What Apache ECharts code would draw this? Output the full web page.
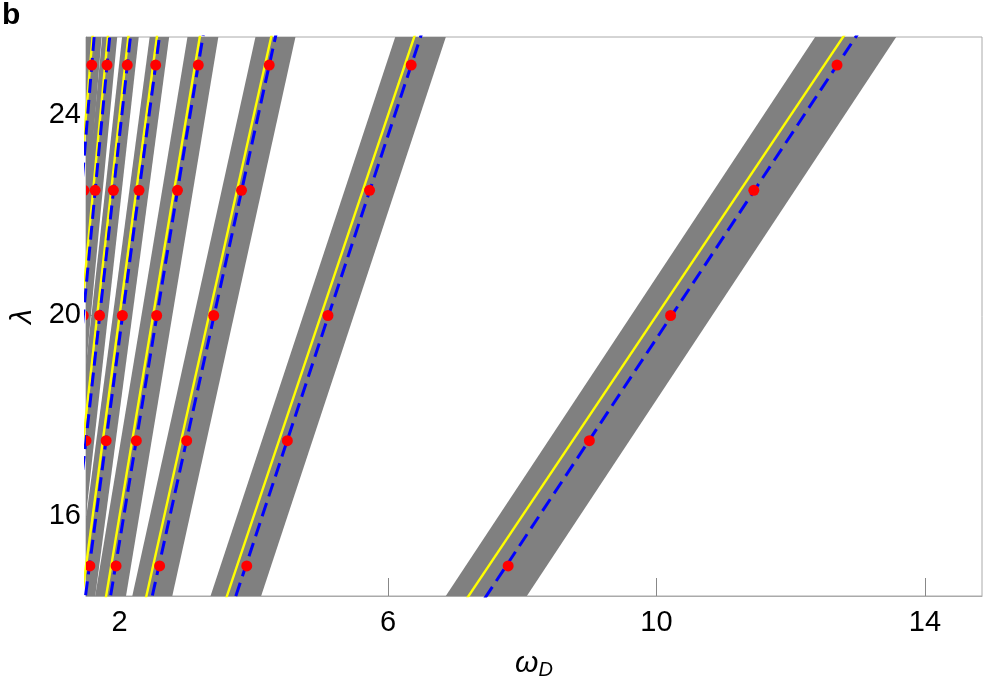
<!DOCTYPE html>
<html><head><meta charset="utf-8">
<script src="https://cdn.jsdelivr.net/npm/echarts@6/dist/echarts.min.js"></script>
<style>html,body{margin:0;padding:0;background:#fff}#c{width:992px;height:690px}</style>
</head><body><div id="c"></div>
<script>
// harmonic index of each band (1 = rightmost)
const harmonicN = [1, 2, 3, 4, 5, 6, 7, 8, 9];
// λ values at which the straight band edges / lines are given
const lambdaEnds = [14, 26];
// grey band edges (ω_D) at λ = 14 and λ = 26
const bandLeftLo  = [6.663, 3.257, 2.124, 1.587, 1.308, 1.087, 0.926, 0.796, 0.707];
const bandRightLo = [7.871, 4.011, 2.720, 2.047, 1.598, 1.335, 1.150, 1.020, 0.907];
const bandLeftHi  = [12.581, 6.216, 4.097, 3.066, 2.492, 2.074, 1.772, 1.536, 1.365];
const bandRightHi = [13.789, 6.970, 4.693, 3.526, 2.782, 2.322, 1.996, 1.760, 1.565];
// yellow solid lines (ω_D) at λ = 14 and λ = 26
const yellowLo = [7.0, 3.5, 2.333, 1.75, 1.4, 1.167, 1.0, 0.875, 0.778];
const yellowHi = [13.0, 6.5, 4.333, 3.25, 2.6, 2.167, 1.857, 1.625, 1.444];
// blue dashed lines (ω_D) at λ = 14 and λ = 26
const blueLo = [7.267, 3.634, 2.422, 1.817, 1.453, 1.211, 1.038, 0.908, 0.807];
const blueHi = [13.185, 6.593, 4.395, 3.296, 2.637, 2.198, 1.884, 1.648, 1.465];
// red points
const redLambda = [15, 17.5, 20, 22.5, 25];
const redOmega = [
  [7.79, 9.0, 10.21, 11.45, 12.69],
  [3.895, 4.5, 5.105, 5.725, 6.345],
  [2.597, 3.0, 3.403, 3.817, 4.23],
  [1.948, 2.25, 2.553, 2.863, 3.173],
  [1.558, 1.8, 2.042, 2.29, 2.538],
  [1.298, 1.5, 1.702, 1.908, 2.115],
  [1.113, 1.286, 1.459, 1.636, 1.813],
  [null, null, 1.276, 1.47, 1.586],
  [null, null, null, 1.272, 1.41]
];
// axis ticks
const xTicks = [2, 6, 10, 14];
const yTicks = [16, 20, 24];

const chart = echarts.init(document.getElementById('c'), null, {renderer: 'canvas'});
const FONT = 'Liberation Sans, Arial, sans-serif';

const series = [];
// grey bands
series.push({
  type: 'custom', clip: true, silent: true, z: 1,
  data: harmonicN.map((n, i) => [bandLeftLo[i], bandRightLo[i], bandLeftHi[i], bandRightHi[i]]),
  renderItem: function (params, api) {
    const p1 = api.coord([api.value(0), lambdaEnds[0]]);
    const p2 = api.coord([api.value(1), lambdaEnds[0]]);
    const p3 = api.coord([api.value(3), lambdaEnds[1]]);
    const p4 = api.coord([api.value(2), lambdaEnds[1]]);
    return {type: 'polygon', shape: {points: [p1, p2, p3, p4]}, style: {fill: '#808080'}};
  }
});
// yellow lines
harmonicN.forEach((n, i) => {
  series.push({
    type: 'line', clip: true, silent: true, z: 3, showSymbol: false, symbol: 'none',
    data: [[yellowLo[i], lambdaEnds[0]], [yellowHi[i], lambdaEnds[1]]],
    lineStyle: {color: '#ffff00', width: 2.4}
  });
});
// blue dashed lines
harmonicN.forEach((n, i) => {
  series.push({
    type: 'line', clip: true, silent: true, z: 4, showSymbol: false, symbol: 'none',
    data: [[blueLo[i], lambdaEnds[0]], [blueHi[i], lambdaEnds[1]]],
    lineStyle: {color: '#0000ff', width: 3, type: [14, 7]}
  });
});
// red points
const redData = [];
redOmega.forEach(row => row.forEach((w, j) => { if (w !== null) redData.push([w, redLambda[j]]); }));
series.push({
  type: 'custom', clip: true, silent: true, z: 5,
  data: redData,
  renderItem: function (params, api) {
    const p = api.coord([api.value(0), api.value(1)]);
    return {type: 'circle', shape: {cx: p[0], cy: p[1], r: 5.5}, style: {fill: '#ff0000'}};
  }
});

chart.setOption({
  animation: false,
  backgroundColor: '#fff',
  graphic: [{type: 'text', left: 2, top: 1, style: {text: 'b', font: 'bold 30px ' + FONT, fill: '#000'}}],
  grid: {left: 86, right: 10, top: 37, bottom: 94, containLabel: false, outerBoundsMode: 'none',
         show: true, borderColor: '#aaaaaa', borderWidth: 1},
  xAxis: {
    type: 'value', min: 1.5, max: 14.85,
    axisLine: {show: true, lineStyle: {color: '#aaaaaa', width: 1}},
    axisTick: {show: true, inside: true, length: 18, customValues: xTicks, lineStyle: {color: '#888888'}},
    axisLabel: {customValues: xTicks, fontSize: 29, color: '#000', fontFamily: FONT, margin: 12},
    splitLine: {show: false},
    name: '{w|ω}{d|D}', nameLocation: 'middle', nameGap: 52,
    nameTextStyle: {rich: {
      w: {fontSize: 30, fontStyle: 'italic', fontFamily: FONT, color: '#000'},
      d: {fontSize: 20, fontStyle: 'italic', fontFamily: FONT, color: '#000', verticalAlign: 'bottom', padding: [12, 0, 0, 0]}
    }}
  },
  yAxis: {
    type: 'value', min: 14.4, max: 25.56,
    axisLine: {show: true, lineStyle: {color: '#aaaaaa', width: 1}},
    axisTick: {show: true, inside: true, length: 18, customValues: yTicks, lineStyle: {color: '#888888'}},
    axisLabel: {customValues: yTicks, fontSize: 29, color: '#000', fontFamily: FONT, margin: 5},
    splitLine: {show: false},
    name: 'λ', nameLocation: 'middle', nameGap: 46,
    nameTextStyle: {fontSize: 30, fontStyle: 'italic', fontFamily: FONT, color: '#000'}
  },
  series: series
});
</script></body></html>
